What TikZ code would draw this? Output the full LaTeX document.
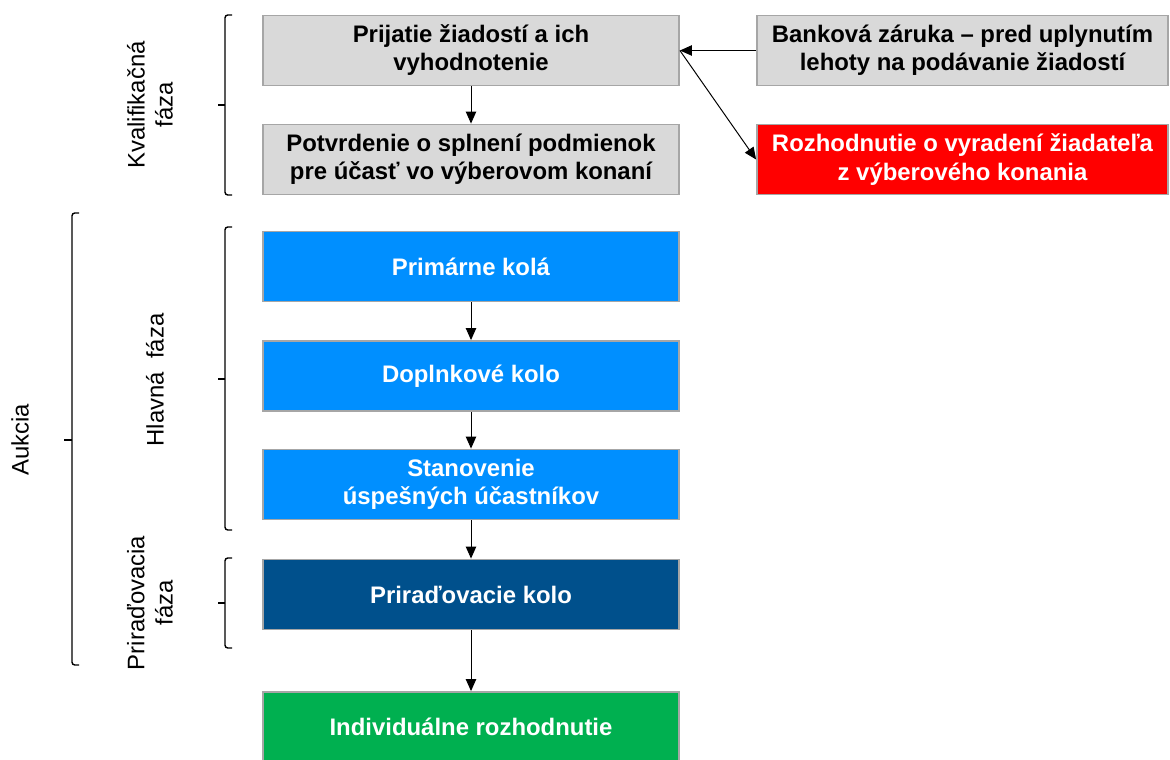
\documentclass[tikz,border=0pt]{standalone}
\usepackage{fontspec}
\setmainfont{Liberation Sans}
\usepackage{tikz}
\usetikzlibrary{arrows.meta,calc}

\definecolor{boxgray}{HTML}{D9D9D9}
\definecolor{edgegray}{HTML}{A6A6A6}
\definecolor{mainblue}{HTML}{008FFF}
\definecolor{darkblue}{HTML}{00508C}
\definecolor{okgreen}{HTML}{00B050}
\definecolor{outred}{HTML}{FF0000}

\begin{document}
\begin{tikzpicture}[
		stage/.style={draw=edgegray,line width=1.3pt,minimum width=10.4cm,minimum height=1.75cm,
			align=center,inner sep=2pt,font=\fontsize{17}{20}\selectfont\bfseries},
		side/.style={stage,minimum width=10.275cm},
		flow/.style={-{Triangle[length=3mm,width=2.6mm]},line width=0.7pt},
		bracket/.style={line width=1pt,rounded corners=2pt},
		phase/.style={rotate=90,align=center,font=\fontsize{17}{20}\selectfont}
	]
	\useasboundingbox (0,0) rectangle (29.25,-19);
	
	% Kvalifikacna faza
	\node[stage,fill=boxgray] (prijatie) at (11.775,-1.2625) {Prijatie žiadostí a ich\\vyhodnotenie};
	\node[stage,fill=boxgray] (potvrdenie) at (11.775,-3.9875) {Potvrdenie o splnení podmienok\\pre účasť vo výberovom konaní};
	\node[side,fill=boxgray] (zaruka) at (24.0625,-1.2625) {Banková záruka – pred uplynutím\\lehoty na podávanie žiadostí};
	\node[side,fill=outred,text=white] (vyradenie) at (24.0625,-3.9875) {Rozhodnutie o vyradení žiadateľa\\z výberového konania};
	
	% Hlavna faza
	\node[stage,fill=mainblue,text=white] (primarne) at (11.775,-6.6625) {Primárne kolá};
	\node[stage,fill=mainblue,text=white] (doplnkove) at (11.775,-9.4) {Doplnkové kolo};
	\node[stage,fill=mainblue,text=white] (stanovenie) at (11.775,-12.1125) {Stanovenie\\úspešných účastníkov};
	
	% Priradovacia faza and result
	\node[stage,fill=darkblue,text=white] (priradovacie) at (11.775,-14.8625) {Priraďovacie kolo};
	\node[stage,fill=okgreen,text=white] (individualne) at (11.775,-18.175) {Individuálne rozhodnutie};
	
	% Arrows
	\draw[flow] (prijatie) -- (potvrdenie);
	\draw[flow] (zaruka.west) -- (prijatie.east);
	\draw[flow] (prijatie.east) -- (vyradenie.west);
	\draw[flow] (primarne) -- (doplnkove);
	\draw[flow] (doplnkove) -- (stanovenie);
	\draw[flow] (stanovenie) -- (priradovacie);
	\draw[flow] (priradovacie) -- (individualne);
	
	% Brackets with their labels
	\draw[bracket] (5.8,-0.375) -- (5.625,-0.375) -- (5.625,-4.875) -- (5.8,-4.875);
	\draw[bracket] (5.625,-2.625) -- (5.45,-2.625);
	\node[phase] (kvalif) at (3.75,-2.625) {Kvalifikačná\\fáza};
	
	\draw[bracket] (5.8,-5.675) -- (5.625,-5.675) -- (5.625,-13.25) -- (5.8,-13.25);
	\draw[bracket] (5.625,-9.475) -- (5.45,-9.475);
	\node[phase] (hlavna) at (3.875,-9.5) {Hlavná\ \ fáza};
	
	\draw[bracket] (5.8,-13.95) -- (5.625,-13.95) -- (5.625,-16.2) -- (5.8,-16.2);
	\draw[bracket] (5.625,-15.075) -- (5.45,-15.075);
	\node[phase] (priradovacia) at (3.75,-15.075) {Priraďovacia\\fáza};
	
	\draw[bracket] (1.975,-5.325) -- (1.8,-5.325) -- (1.8,-16.625) -- (1.975,-16.625);
	\draw[bracket] (1.8,-11) -- (1.6,-11);
	\node[phase] (aukcia) at (0.5,-11) {Aukcia};
	
\end{tikzpicture}
\end{document}
